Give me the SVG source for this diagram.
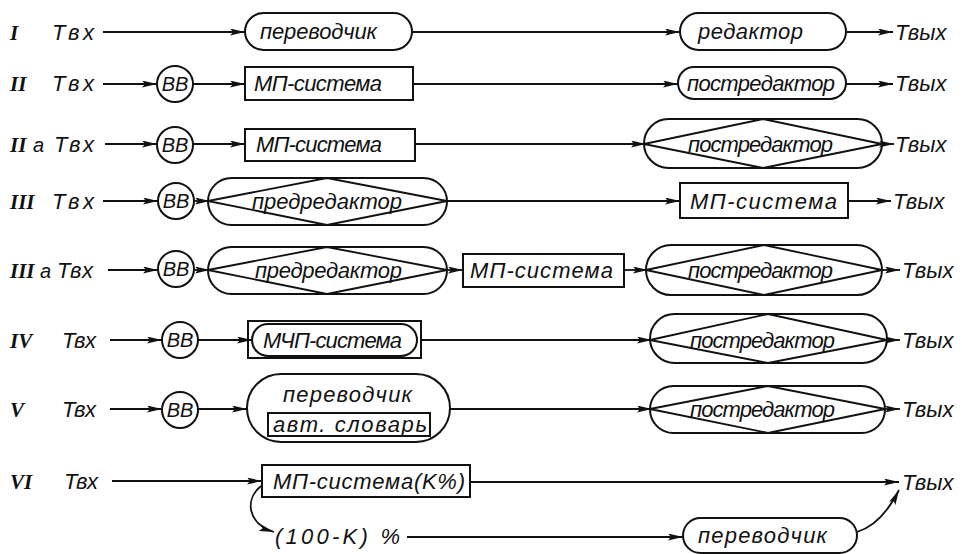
<svg xmlns="http://www.w3.org/2000/svg" width="962" height="554" viewBox="0 0 962 554">
<style>
.bg{fill:#fff}
.sh{fill:none;stroke:#111;stroke-width:2}
.ln{fill:none;stroke:#111;stroke-width:1.8}
.t{font-family:"Liberation Sans","DejaVu Sans",sans-serif;font-style:italic;font-size:22px;fill:#111}
.tc{font-family:"Liberation Sans","DejaVu Sans",sans-serif;font-style:italic;font-size:20px;fill:#111;text-anchor:middle}
.r{font-family:"Liberation Serif","DejaVu Serif",serif;font-style:italic;font-weight:bold;font-size:21px;fill:#111}
.ra{font-family:"Liberation Sans","DejaVu Sans",sans-serif;font-weight:normal;font-size:20px}
</style>
<defs>
<marker id="a" viewBox="0 0 15 7" refX="15" refY="3.5" markerWidth="15" markerHeight="7" markerUnits="userSpaceOnUse" orient="auto"><path d="M0,0 L15,3.5 L0,7 L3,3.5 z" fill="#111"/></marker>
</defs>
<rect class="bg" x="0" y="0" width="962" height="554"/>

<g id="labels">
<text class="r" x="10" y="40">I</text>
<text class="t" x="52" y="40" textLength="42">Твх</text>
<text class="r" x="10" y="91">II</text>
<text class="t" x="52" y="91" textLength="42">Твх</text>
<text class="r" x="10" y="152">II<tspan class="ra" x="33">a</tspan></text>
<text class="t" x="54" y="152" textLength="40">Твх</text>
<text class="r" x="10" y="209">III</text>
<text class="t" x="52" y="209" textLength="42">Твх</text>
<text class="r" x="10" y="278">III<tspan class="ra" x="40">a</tspan></text>
<text class="t" x="57" y="278" textLength="36">Твх</text>
<text class="r" x="10" y="348">IV</text>
<text class="t" x="62" y="348" textLength="34">Твх</text>
<text class="r" x="10" y="417">V</text>
<text class="t" x="62" y="417" textLength="34">Твх</text>
<text class="r" x="10" y="489">VI</text>
<text class="t" x="64" y="489" textLength="34">Твх</text>
<text class="t" x="895" y="40">Твых</text>
<text class="t" x="895" y="91">Твых</text>
<text class="t" x="895" y="152">Твых</text>
<text class="t" x="893" y="209">Твых</text>
<text class="t" x="902" y="278">Твых</text>
<text class="t" x="902" y="348">Твых</text>
<text class="t" x="902" y="417">Твых</text>
<text class="t" x="902" y="490">Твых</text>
<text class="t" x="275" y="544" textLength="125">(100-K) %</text>
</g>

<g id="connectors">
<line class="ln" x1="103" y1="32" x2="245" y2="32" marker-end="url(#a)"/>
<line class="ln" x1="412" y1="32" x2="680" y2="32" marker-end="url(#a)"/>
<line class="ln" x1="846" y1="32" x2="893" y2="32" marker-end="url(#a)"/>

<line class="ln" x1="103" y1="84" x2="157" y2="84" marker-end="url(#a)"/>
<line class="ln" x1="193" y1="84" x2="245" y2="84" marker-end="url(#a)"/>
<line class="ln" x1="413" y1="84" x2="678" y2="84" marker-end="url(#a)"/>
<line class="ln" x1="846" y1="84" x2="893" y2="84" marker-end="url(#a)"/>

<line class="ln" x1="105" y1="144" x2="157" y2="144" marker-end="url(#a)"/>
<line class="ln" x1="193" y1="144" x2="245" y2="144" marker-end="url(#a)"/>
<line class="ln" x1="415" y1="144" x2="646" y2="144" marker-end="url(#a)"/>
<line class="ln" x1="882" y1="144" x2="894" y2="144" marker-end="url(#a)"/>

<line class="ln" x1="103" y1="201" x2="158" y2="201" marker-end="url(#a)"/>
<line class="ln" x1="194" y1="201" x2="210" y2="201" marker-end="url(#a)"/>
<line class="ln" x1="447" y1="201" x2="680" y2="201" marker-end="url(#a)"/>
<line class="ln" x1="848" y1="201" x2="891" y2="201" marker-end="url(#a)"/>

<line class="ln" x1="108" y1="270" x2="158" y2="270" marker-end="url(#a)"/>
<line class="ln" x1="194" y1="270" x2="210" y2="270" marker-end="url(#a)"/>
<line class="ln" x1="447" y1="270" x2="463" y2="270" marker-end="url(#a)"/>
<line class="ln" x1="624" y1="270" x2="648" y2="270" marker-end="url(#a)"/>
<line class="ln" x1="882" y1="270" x2="900" y2="270" marker-end="url(#a)"/>

<line class="ln" x1="110" y1="340" x2="162" y2="340" marker-end="url(#a)"/>
<line class="ln" x1="198" y1="340" x2="252" y2="340" marker-end="url(#a)"/>
<line class="ln" x1="421" y1="340" x2="652" y2="340" marker-end="url(#a)"/>
<line class="ln" x1="887" y1="340" x2="900" y2="340" marker-end="url(#a)"/>

<line class="ln" x1="110" y1="409" x2="162" y2="409" marker-end="url(#a)"/>
<line class="ln" x1="198" y1="409" x2="247" y2="409" marker-end="url(#a)"/>
<line class="ln" x1="450" y1="409" x2="652" y2="409" marker-end="url(#a)"/>
<line class="ln" x1="885" y1="409" x2="900" y2="409" marker-end="url(#a)"/>

<line class="ln" x1="112" y1="481" x2="262" y2="481" marker-end="url(#a)"/>
<line class="ln" x1="470" y1="482" x2="899" y2="482" marker-end="url(#a)"/>
<path class="ln" d="M261,486 C244,500 248,524 274,532" marker-end="url(#a)"/>
<line class="ln" x1="407" y1="537" x2="683" y2="537" marker-end="url(#a)"/>
<path class="ln" d="M857,532 C876,526 890,508 899,490" marker-end="url(#a)"/>
</g>

<g id="n1a"><rect class="sh" x="245" y="13" width="167" height="37" rx="18.5"/><text class="t" x="260" y="39" textLength="117">переводчик</text></g>
<g id="n1b"><rect class="sh" x="680" y="13" width="166" height="37" rx="18.5"/><text class="t" x="698" y="39" textLength="105">редактор</text></g>

<g id="n2bb"><circle class="sh" cx="175" cy="84" r="18"/><text class="tc" x="175" y="91">ВВ</text></g>
<g id="n2a"><rect class="sh" x="245" y="67" width="168" height="33"/><text class="t" x="254" y="91" textLength="128">МП-система</text></g>
<g id="n2b"><rect class="sh" x="678" y="67" width="168" height="32" rx="16"/><text class="t" x="687" y="91" textLength="148">постредактор</text></g>

<g id="n2abb"><circle class="sh" cx="175" cy="145" r="18"/><text class="tc" x="175" y="152">ВВ</text></g>
<g id="n2aa"><rect class="sh" x="245" y="129" width="170" height="32"/><text class="t" x="256" y="152" textLength="126">МП-система</text></g>
<g id="n2ab"><rect class="sh" x="644" y="119" width="238" height="49" rx="24.5"/><path class="ln" d="M644,144 L763,119 L882,144 L763,168 Z"/><text class="t" x="688" y="152" textLength="145">постредактор</text></g>

<g id="n3bb"><circle class="sh" cx="176" cy="201" r="18"/><text class="tc" x="176" y="208">ВВ</text></g>
<g id="n3a"><rect class="sh" x="208" y="178" width="239" height="47" rx="23.5"/><path class="ln" d="M208,201 L327,178 L447,201 L327,225 Z"/><text class="t" x="252" y="209" textLength="150">предредактор</text></g>
<g id="n3b"><rect class="sh" x="680" y="183" width="168" height="35"/><text class="t" x="690" y="209" textLength="147">МП-система</text></g>

<g id="n3abb"><circle class="sh" cx="176" cy="269" r="18"/><text class="tc" x="176" y="276">ВВ</text></g>
<g id="n3aa"><rect class="sh" x="208" y="247" width="239" height="47" rx="23.5"/><path class="ln" d="M208,270 L327,247 L447,270 L327,294 Z"/><text class="t" x="255" y="278" textLength="147">предредактор</text></g>
<g id="n3ab"><rect class="sh" x="463" y="254" width="161" height="33"/><text class="t" x="470" y="278" textLength="143">МП-система</text></g>
<g id="n3ac"><rect class="sh" x="646" y="245" width="236" height="50" rx="25"/><path class="ln" d="M646,270 L764,245 L882,270 L764,295 Z"/><text class="t" x="688" y="278" textLength="145">постредактор</text></g>

<g id="n4bb"><circle class="sh" cx="180" cy="340" r="18"/><text class="tc" x="180" y="347">ВВ</text></g>
<g id="n4a"><rect class="sh" x="248" y="321" width="173" height="37"/><rect class="sh" x="252" y="324" width="165" height="32" rx="16"/><text class="t" x="263" y="348" textLength="139">МЧП-система</text></g>
<g id="n4b"><rect class="sh" x="650" y="314" width="237" height="49" rx="24.5"/><path class="ln" d="M650,340 L768,314 L887,340 L768,363 Z"/><text class="t" x="690" y="348" textLength="145">постредактор</text></g>

<g id="n5bb"><circle class="sh" cx="180" cy="410" r="18"/><text class="tc" x="180" y="417">ВВ</text></g>
<g id="n5a"><rect class="sh" x="247" y="374" width="203" height="68" rx="34"/><text class="t" x="283" y="402" textLength="129">переводчик</text><rect class="sh" x="268" y="413" width="162" height="23"/><text class="t" x="273" y="432" textLength="154">авт. словарь</text></g>
<g id="n5b"><rect class="sh" x="650" y="386" width="235" height="47" rx="23.5"/><path class="ln" d="M650,409 L768,386 L885,409 L768,433 Z"/><text class="t" x="690" y="417" textLength="145">постредактор</text></g>

<g id="n6a"><rect class="sh" x="262" y="465" width="208" height="32"/><text class="t" x="273" y="489" textLength="192">МП-система(K%)</text></g>
<g id="n6b"><rect class="sh" x="683" y="518" width="174" height="35" rx="17.5"/><text class="t" x="698" y="543" textLength="129">переводчик</text></g>
</svg>
